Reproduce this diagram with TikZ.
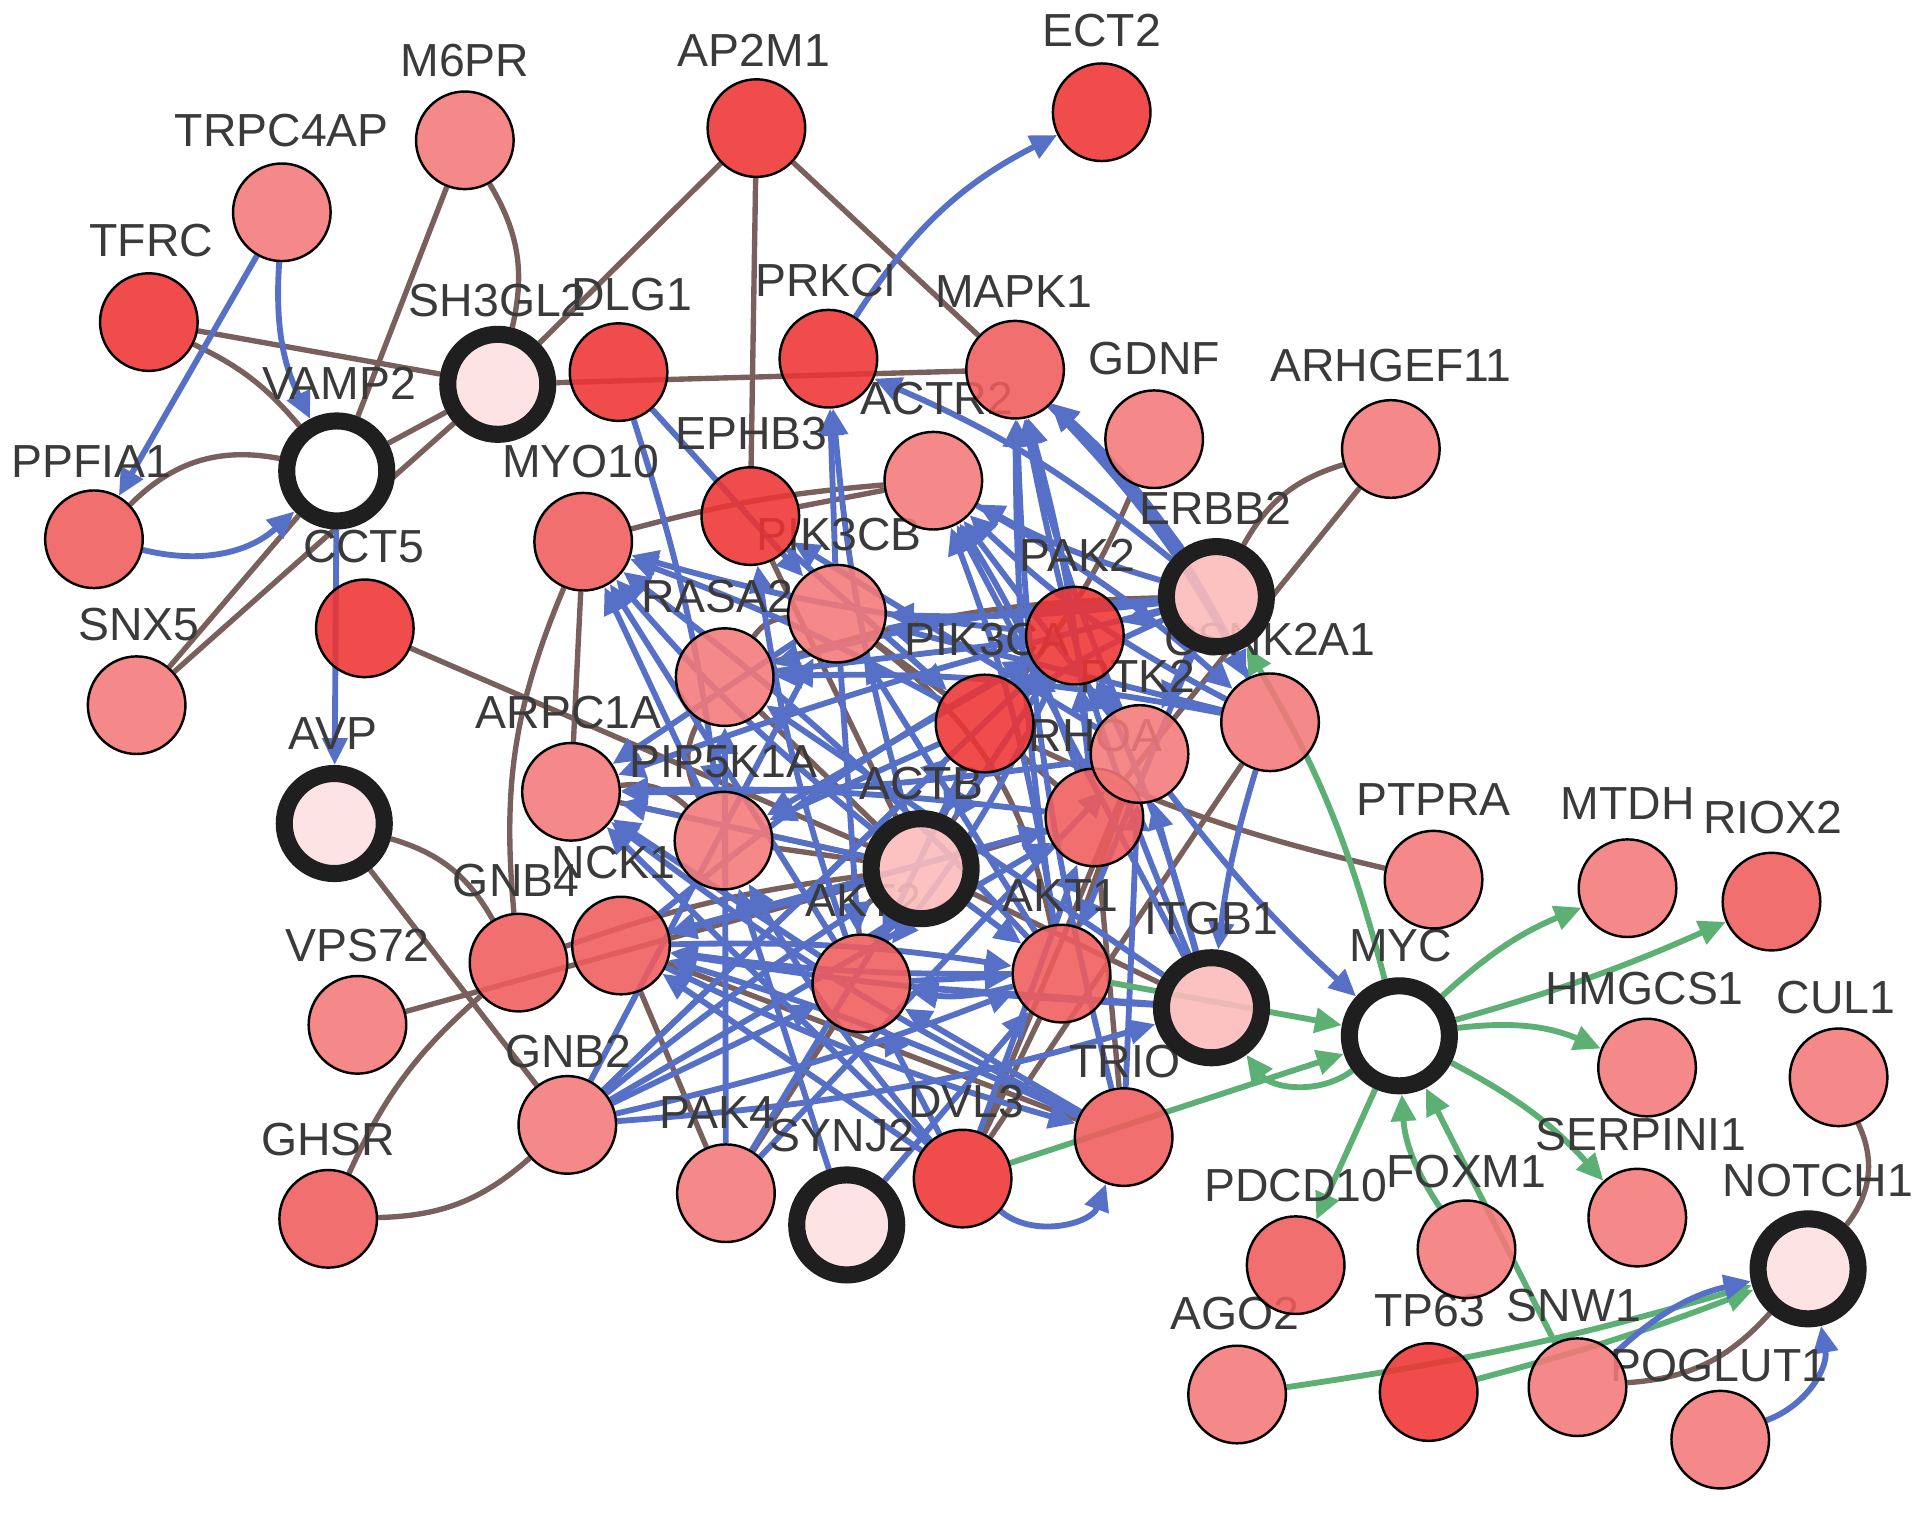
\documentclass[tikz,border=0pt]{standalone}
\usepackage{fontspec}
\setmainfont{Liberation Sans}
\usetikzlibrary{arrows.meta}
\definecolor{blueE}{RGB}{86,112,200}
\definecolor{brownE}{RGB}{122,96,92}
\definecolor{greenE}{RGB}{92,176,116}
\definecolor{nDark}{RGB}{238,52,52}
\definecolor{nMid}{RGB}{240,92,92}
\definecolor{nLight}{RGB}{244,120,120}
\definecolor{nPale}{RGB}{253,224,224}
\definecolor{nPink}{RGB}{252,188,188}
\definecolor{lblC}{RGB}{58,58,58}
\pgfdeclarelayer{bg}
\pgfdeclarelayer{lab}
\pgfsetlayers{bg,lab,main}
\newcommand{\gene}[6]{\node[#2] (#1) at (#3,#4) {};\begin{pgfonlayer}{lab}\node[lbl] at (#5,#6) {#1};\end{pgfonlayer}}
\begin{document}
\begin{tikzpicture}[x=0.5pt,y=-0.5pt,
 gene/.style={circle,draw=black,line width=1pt,minimum size=40pt,inner sep=0pt,fill opacity=0.88,draw opacity=1},
 dk/.style={gene,fill=nDark}, md/.style={gene,fill=nMid}, lt/.style={gene,fill=nLight},
 ring/.style={circle,draw=black!88,line width=7pt,minimum size=41pt,inner sep=0pt,fill opacity=0.9,draw opacity=1},
 rpale/.style={ring,fill=nPale}, rpink/.style={ring,fill=nPink}, rwhite/.style={ring,fill=white},
 lbl/.style={font=\fontsize{19pt}{19pt}\selectfont,text=lblC,inner sep=0pt},
 bl/.style={draw=blueE,line width=2.4pt,-{Triangle[length=11pt,width=10pt]}},
 gr/.style={draw=greenE,line width=2.4pt,-{Triangle[length=11pt,width=10pt]}},
 br/.style={draw=brownE,line width=2.2pt}]
\begin{pgfonlayer}{bg}
\fill[white] (0,0) rectangle (1568,1244);
\end{pgfonlayer}
\useasboundingbox (0,0) rectangle (1568,1244);
% nodes: name, style, x, y, label x, label y
\gene{M6PR}{lt}{381}{115}{381}{50}
\gene{AP2M1}{dk}{620}{105}{618}{41}
\gene{ECT2}{dk}{903}{92}{903}{25}
\gene{TRPC4AP}{lt}{231}{174}{231}{107}
\gene{TFRC}{dk}{122}{264}{124}{197}
\gene{SH3GL2}{rpale}{408}{315}{408}{246}
\gene{DLG1}{dk}{507}{305}{518}{241}
\gene{PRKCI}{dk}{679}{294}{677}{230}
\gene{MAPK1}{md}{832}{303}{831}{239}
\gene{GDNF}{lt}{946}{360}{946}{294}
\gene{ARHGEF11}{lt}{1140}{368}{1140}{300}
\gene{VAMP2}{rwhite}{276}{386}{278}{314}
\gene{PPFIA1}{md}{77}{442}{75}{378}
\gene{ACTR2}{lt}{765}{394}{768}{327}
\gene{EPHB3}{dk}{615}{423}{616}{355}
\gene{MYO10}{md}{478}{444}{476}{378}
\gene{CCT5}{dk}{299}{515}{298}{448}
\gene{SNX5}{lt}{112}{578}{114}{512}
\gene{PIK3CB}{lt}{686}{503}{688}{438}
\gene{ERBB2}{rpink}{997}{489}{996}{417}
\gene{PAK2}{dk}{881}{521}{883}{455}
\gene{RASA2}{lt}{594}{555}{588}{489}
\gene{PIK3CA}{dk}{807}{593}{809}{524}
\gene{CSNK2A1}{lt}{1041}{592}{1041}{524}
\gene{RHOA}{md}{897}{670}{898}{603}
\gene{PTK2}{lt}{934}{618}{932}{554}
\gene{ARPC1A}{lt}{468}{649}{466}{584}
\gene{AVP}{rpale}{274}{675}{273}{601}
\gene{PIP5K1A}{lt}{593}{689}{593}{624}
\gene{ACTB}{rpink}{755}{712}{755}{642}
\gene{PTPRA}{lt}{1175}{721}{1175}{655}
\gene{MTDH}{lt}{1334}{728}{1334}{659}
\gene{RIOX2}{md}{1452}{739}{1453}{670}
\gene{NCK1}{md}{509}{775}{503}{707}
\gene{GNB4}{md}{425}{789}{423}{722}
\gene{AKT2}{md}{706}{806}{708}{738}
\gene{AKT1}{md}{870}{798}{869}{734}
\gene{ITGB1}{rpink}{993}{826}{993}{753}
\gene{MYC}{rwhite}{1147}{849}{1148}{775}
\gene{HMGCS1}{lt}{1350}{875}{1348}{810}
\gene{CUL1}{lt}{1507}{883}{1505}{818}
\gene{VPS72}{lt}{293}{840}{293}{775}
\gene{GNB2}{lt}{465}{922}{466}{862}
\gene{TRIO}{md}{921}{932}{922}{870}
\gene{DVL3}{dk}{789}{966}{792}{903}
\gene{SYNJ2}{rpale}{694}{1004}{690}{931}
\gene{PAK4}{lt}{595}{978}{588}{912}
\gene{GHSR}{md}{269}{999}{269}{934}
\gene{SERPINI1}{lt}{1342}{998}{1345}{930}
\gene{PDCD10}{md}{1062}{1037}{1062}{972}
\gene{FOXM1}{lt}{1202}{1024}{1202}{960}
\gene{NOTCH1}{rpale}{1482}{1040}{1490}{968}
\gene{AGO2}{lt}{1014}{1143}{1012}{1077}
\gene{TP63}{dk}{1171}{1141}{1172}{1074}
\gene{SNW1}{lt}{1293}{1137}{1290}{1070}
\gene{POGLUT1}{lt}{1410}{1180}{1409}{1119}
\begin{pgfonlayer}{bg}
% ---- brown interactions
\draw[br] (TFRC) -- (SH3GL2);
\draw[br] (TFRC) to[bend left=12] (VAMP2);
\draw[br] (M6PR) -- (VAMP2);
\draw[br] (M6PR) to[bend left=22] (SH3GL2);
\draw[br] (AP2M1) -- (SH3GL2);
\draw[br] (AP2M1) -- (EPHB3);
\draw[br] (AP2M1) -- (MAPK1);
\draw[br] (SH3GL2) -- (MAPK1);
\draw[br] (SH3GL2) -- (VAMP2);
\draw[br] (SNX5) -- (VAMP2);
\draw[br] (SNX5) -- (SH3GL2);
\draw[br] (PPFIA1) to[bend left=28] (VAMP2);
\draw[br] (CCT5) -- (ACTB);
\draw[br] (MYO10) to[bend left=5] (ACTR2);
\draw[br] (MYO10) -- (ARPC1A);
\draw[br] (MYO10) to[bend right=14] (GNB4);
\draw[br] (AVP) to[bend left=22] (GNB4);
\draw[br] (AVP) -- (GNB2);
\draw[br] (VPS72) -- (ACTB);
\draw[br] (GHSR) to[bend left=12] (GNB4);
\draw[br] (GHSR) to[bend right=20] (GNB2);
\draw[br] (NCK1) -- (PAK4);
\draw[br] (NCK1) -- (TRIO);
\draw[br] (ARHGEF11) to[bend right=22] (ERBB2);
\draw[br] (ARHGEF11) -- (RHOA);
\draw[br] (PTPRA) to[bend left=6] (PIK3CA);
\draw[br] (CUL1) to[bend left=32] (NOTCH1);
\draw[br] (NOTCH1) to[bend left=22] (SNW1);
\draw[br] (ACTB) -- (ITGB1);
\draw[br] (RASA2) to[bend left=8] (ERBB2);
\draw[br] (GDNF) to[bend left=8] (PIK3CA);
\draw[br] (PIK3CB) -- (PIK3CA);
\draw[br] (ARPC1A) -- (ACTB);
\draw[br] (ARPC1A) to[bend left=25] (PIP5K1A);
\draw[br] (PIP5K1A) -- (ACTB);
\draw[br] (ACTB) -- (PIK3CA);
\draw[br] (ACTB) -- (RHOA);
\draw[br] (ACTB) -- (PAK2);
\draw[br] (ACTB) -- (RASA2);
\draw[br] (DVL3) -- (AKT1);
\draw[br] (DVL3) -- (PTK2);
\draw[br] (TRIO) -- (RHOA);
\draw[br] (CSNK2A1) -- (DVL3);
\draw[br] (RASA2) to[bend right=30] (PIP5K1A);
\draw[br] (EPHB3) -- (ACTB);
\draw[br] (AKT2) -- (PAK4);
\draw[br] (GNB4) to[bend left=6] (ACTB);
\draw[br] (PIK3CB) to[bend right=25] (RASA2);
\draw[br] (PIK3CA) -- (PAK2);
\draw[br] (RHOA) -- (PIK3CA);
\draw[br] (AKT1) -- (PTK2);
\draw[br] (AKT2) to[bend left=30] (ACTB);
\draw[br] (PIK3CB) to[bend left=20] (AKT1);
\draw[br] (EPHB3) -- (ACTR2);
% ---- blue directed
\draw[bl] (TRPC4AP) -- (PPFIA1);
\draw[bl] (TRPC4AP) to[bend right=15] (VAMP2);
\draw[bl] (PPFIA1) to[bend right=28] (VAMP2);
\draw[bl] (VAMP2) -- (AVP);
\draw[bl] (PRKCI) to[bend left=15] (ECT2);
\draw[bl] (ERBB2) to[bend right=6] (MAPK1);
\draw[bl] (ERBB2) to[bend left=6] (ACTR2);
\draw[bl] (ERBB2) to[bend right=8] (PRKCI);
\draw[bl] (PTK2) to[bend left=5] (MAPK1);
\draw[bl] (RHOA) to[bend right=5] (MAPK1);
\draw[bl] (AKT1) to[bend left=4] (MAPK1);
\draw[bl] (CSNK2A1) to[bend right=10] (MAPK1);
\draw[bl] (ACTB) to[bend left=5] (PRKCI);
\draw[bl] (PIK3CB) -- (PRKCI);
\draw[bl] (AKT2) to[bend left=5] (EPHB3);
\draw[bl] (DLG1) to[bend left=5] (PIP5K1A);
\draw[bl] (DLG1) -- (PIK3CB);
\draw[bl] (RHOA) to[bend right=6] (ACTR2);
\draw[bl] (PTK2) -- (ACTR2);
\draw[bl] (ERBB2) -- (PAK2);
\draw[bl] (ERBB2) to[bend right=5] (PIK3CA);
\draw[bl] (ERBB2) to[bend left=4] (PIK3CB);
\draw[bl] (ERBB2) to[bend right=6] (RASA2);
\draw[bl] (ERBB2) -- (AKT1);
\draw[bl] (ERBB2) -- (PTK2);
\draw[bl] (MAPK1) to[bend left=8] (CSNK2A1);
\draw[bl] (ACTR2) to[bend left=6] (CSNK2A1);
\draw[bl] (PTK2) -- (PAK2);
\draw[bl] (NCK1) to[bend left=5] (PAK2);
\draw[bl] (RASA2) -- (PAK2);
\draw[bl] (ITGB1) to[bend right=5] (PAK2);
\draw[bl] (PIP5K1A) -- (MYO10);
\draw[bl] (ACTB) to[bend left=5] (MYO10);
\draw[bl] (AKT1) to[bend right=5] (MYO10);
\draw[bl] (PAK2) to[bend left=5] (MYO10);
\draw[bl] (ACTB) -- (ARPC1A);
\draw[bl] (AKT2) -- (ARPC1A);
\draw[bl] (PTK2) to[bend left=4] (ARPC1A);
\draw[bl] (RHOA) to[bend right=4] (ARPC1A);
\draw[bl] (PIK3CB) -- (ARPC1A);
\draw[bl] (ACTB) -- (NCK1);
\draw[bl] (AKT1) to[bend left=4] (NCK1);
\draw[bl] (TRIO) to[bend right=4] (NCK1);
\draw[bl] (DVL3) -- (NCK1);
\draw[bl] (ITGB1) to[bend left=3] (NCK1);
\draw[bl] (RHOA) -- (NCK1);
\draw[bl] (PAK2) -- (PIP5K1A);
\draw[bl] (PIK3CA) -- (PIP5K1A);
\draw[bl] (GNB2) -- (AKT2);
\draw[bl] (GNB2) to[bend right=4] (AKT1);
\draw[bl] (GNB2) -- (PIK3CA);
\draw[bl] (GNB2) -- (PIK3CB);
\draw[bl] (GNB2) to[bend left=3] (ACTB);
\draw[bl] (NCK1) to[bend left=5] (AKT1);
\draw[bl] (NCK1) to[bend right=5] (TRIO);
\draw[bl] (AKT2) -- (AKT1);
\draw[bl] (PAK4) -- (ACTB);
\draw[bl] (PAK4) -- (PTK2);
\draw[bl] (SYNJ2) -- (AKT1);
\draw[bl] (DVL3) to[bend right=55] (TRIO);
\draw[bl] (DVL3) -- (AKT2);
\draw[bl] (DVL3) -- (RHOA);
\draw[bl] (TRIO) -- (PTK2);
\draw[bl] (TRIO) -- (AKT2);
\draw[bl] (ITGB1) -- (PTK2);
\draw[bl] (CSNK2A1) to[bend right=5] (ITGB1);
\draw[bl] (ITGB1) -- (AKT2);
\draw[bl] (PTK2) to[bend right=5] (MYC);
\draw[bl] (PIK3CB) -- (AKT2);
\draw[bl] (PIK3CA) -- (AKT2);
\draw[bl] (PIK3CA) -- (ACTB);
\draw[bl] (PAK2) -- (ACTB);
\draw[bl] (EPHB3) -- (PIK3CA);
\draw[bl] (ACTB) -- (AKT1);
\draw[bl] (AKT1) to[bend left=12] (AKT2);
\draw[bl] (CSNK2A1) to[bend left=8] (ACTR2);
\draw[bl] (CSNK2A1) -- (PIK3CB);
\draw[bl] (CSNK2A1) to[bend right=6] (RASA2);
\draw[bl] (ITGB1) to[bend left=6] (MAPK1);
\draw[bl] (ITGB1) -- (ACTR2);
\draw[bl] (AKT1) -- (PIK3CB);
\draw[bl] (TRIO) to[bend left=5] (ARPC1A);
\draw[bl] (DVL3) -- (ARPC1A);
\draw[bl] (SYNJ2) -- (PIP5K1A);
\draw[bl] (PAK4) -- (RASA2);
\draw[bl] (GNB2) -- (PAK2);
\draw[bl] (GNB2) -- (RHOA);
\draw[bl] (NCK1) -- (RHOA);
\draw[bl] (DVL3) to[bend left=5] (PIP5K1A);
\draw[bl] (AKT2) -- (MYO10);
\draw[bl] (PIK3CA) to[bend right=4] (MYO10);
\draw[bl] (ITGB1) -- (RASA2);
\draw[bl] (ERBB2) to[bend right=3] (ARPC1A);
\draw[bl] (PTK2) -- (EPHB3);
\draw[bl] (AKT1) to[bend right=6] (ACTR2);
\draw[bl] (TRIO) to[bend left=6] (MAPK1);
\draw[bl] (PAK2) to[bend left=6] (AKT2);
\draw[bl] (RHOA) -- (PAK2);
\draw[bl] (GNB2) to[bend right=6] (ITGB1);
% ---- green directed
\draw[gr] (MYC) to[bend right=8] (ERBB2);
\draw[gr] (AKT1) -- (MYC);
\draw[gr] (DVL3) -- (MYC);
\draw[gr] (MYC) to[bend left=45] (ITGB1);
\draw[gr] (MYC) to[bend left=10] (MTDH);
\draw[gr] (MYC) to[bend right=4] (RIOX2);
\draw[gr] (MYC) to[bend left=15] (HMGCS1);
\draw[gr] (MYC) to[bend left=10] (SERPINI1);
\draw[gr] (MYC) -- (PDCD10);
\draw[gr] (FOXM1) to[bend left=15] (MYC);
\draw[gr] (SNW1) -- (MYC);
\draw[gr] (AGO2) to[bend right=4] (NOTCH1);
\draw[gr] (TP63) to[bend right=3] (NOTCH1);
\draw[bl] (SNW1) to[bend left=15] (NOTCH1);
\draw[bl] (POGLUT1) to[bend right=40] (NOTCH1);
\end{pgfonlayer}
\end{tikzpicture}
\end{document}
